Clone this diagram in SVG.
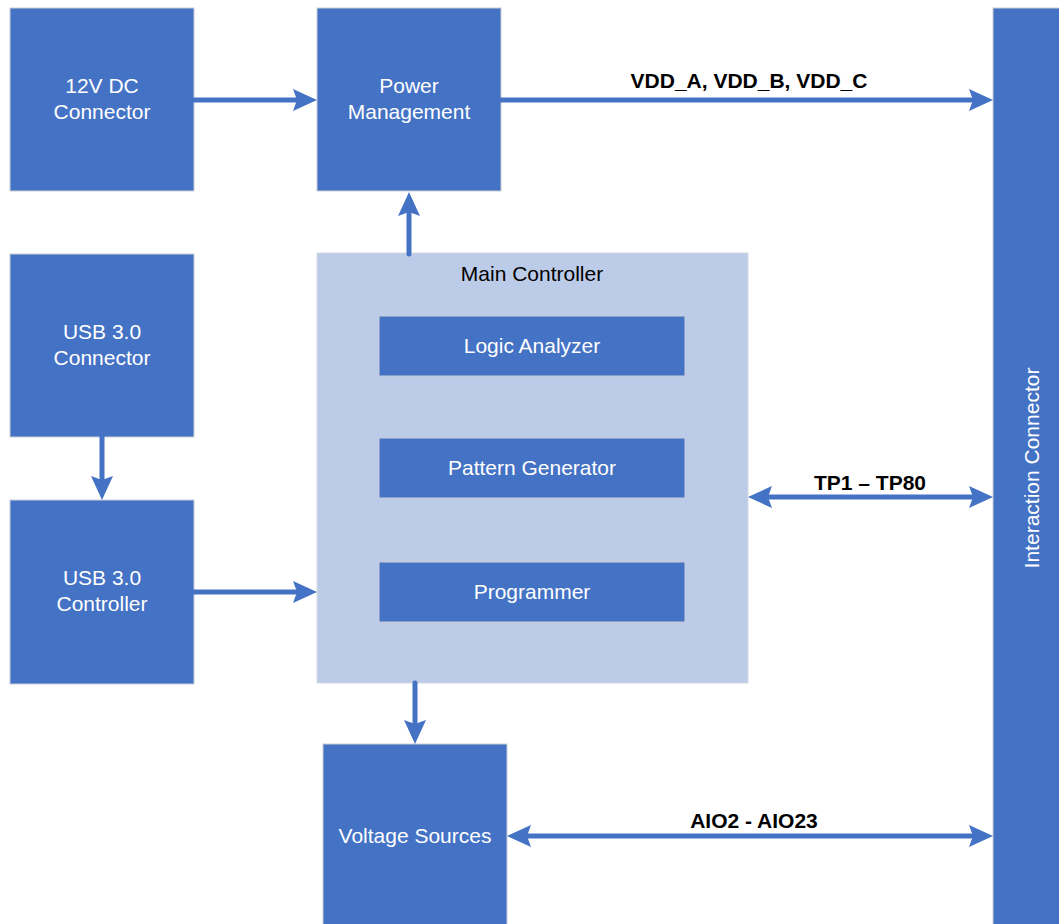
<svg xmlns="http://www.w3.org/2000/svg" width="1059" height="924" viewBox="0 0 1059 924">
<style>
.blk{fill:#4472C4;stroke:#C9CED6;stroke-width:1}
.grp{fill:#BCCCE8;stroke:#D5DAE2;stroke-width:1}
.wt{font-family:"Liberation Sans",Arial,sans-serif;font-size:21px;fill:#FFFFFF;text-anchor:middle}
.bt{font-family:"Liberation Sans",Arial,sans-serif;font-size:21px;fill:#000000;text-anchor:middle}
.lb{font-family:"Liberation Sans",Arial,sans-serif;font-size:21px;font-weight:bold;fill:#000000;text-anchor:middle}
.cn{fill:none;stroke:#4472C4;stroke-width:5;stroke-linecap:round}
</style>
<defs>
<marker id="ah" viewBox="0 0 24 24" refX="12" refY="12" markerWidth="24" markerHeight="24" markerUnits="userSpaceOnUse" orient="auto-start-reverse">
<path d="M0,1 L24,12 L0,23 L4,12 z" fill="#4472C4"/>
</marker>
</defs>
<rect width="1059" height="924" fill="#FFFFFF"/>
<g id="main-controller">
<rect class="grp" x="317" y="253" width="431" height="430"/>
<text class="bt" x="532" y="281">Main Controller</text>
</g>
<g id="dc-connector">
<rect class="blk" x="10" y="8" width="184" height="183"/>
<text class="wt" x="102" y="93">12V DC</text>
<text class="wt" x="102" y="119">Connector</text>
</g>
<g id="power-management">
<rect class="blk" x="317" y="8" width="184" height="183"/>
<text class="wt" x="409" y="93">Power</text>
<text class="wt" x="409" y="119">Management</text>
</g>
<g id="usb-connector">
<rect class="blk" x="10" y="254" width="184" height="183"/>
<text class="wt" x="102" y="339">USB 3.0</text>
<text class="wt" x="102" y="365">Connector</text>
</g>
<g id="usb-controller">
<rect class="blk" x="10" y="500" width="184" height="184"/>
<text class="wt" x="102" y="585">USB 3.0</text>
<text class="wt" x="102" y="611">Controller</text>
</g>
<g id="logic-analyzer">
<rect class="blk" x="379" y="316" width="306" height="60"/>
<text class="wt" x="532" y="353">Logic Analyzer</text>
</g>
<g id="pattern-generator">
<rect class="blk" x="379" y="438" width="306" height="60"/>
<text class="wt" x="532" y="475">Pattern Generator</text>
</g>
<g id="programmer">
<rect class="blk" x="379" y="562" width="306" height="60"/>
<text class="wt" x="532" y="599">Programmer</text>
</g>
<g id="voltage-sources">
<rect class="blk" x="323" y="744" width="184" height="190"/>
<text class="wt" x="415" y="843">Voltage Sources</text>
</g>
<g id="interaction-connector">
<rect class="blk" x="993" y="8" width="70" height="926"/>
<text class="wt" transform="translate(1039,468) rotate(-90)" x="0" y="0">Interaction Connector</text>
</g>
<g id="connectors">
<line class="cn" x1="194" y1="100" x2="305" y2="100" marker-end="url(#ah)"/>
<line class="cn" x1="501" y1="100" x2="981" y2="100" marker-end="url(#ah)"/>
<line class="cn" x1="409" y1="254" x2="409" y2="204" marker-end="url(#ah)"/>
<line class="cn" x1="102" y1="437" x2="102" y2="488" marker-end="url(#ah)"/>
<line class="cn" x1="194" y1="592" x2="305" y2="592" marker-end="url(#ah)"/>
<line class="cn" x1="415" y1="683" x2="415" y2="732" marker-end="url(#ah)"/>
<line class="cn" x1="760" y1="497" x2="981" y2="497" marker-start="url(#ah)" marker-end="url(#ah)"/>
<line class="cn" x1="519" y1="836" x2="981" y2="836" marker-start="url(#ah)" marker-end="url(#ah)"/>
<text class="lb" x="749" y="88">VDD_A, VDD_B, VDD_C</text>
<text class="lb" x="870" y="490">TP1 – TP80</text>
<text class="lb" x="754" y="828">AIO2 - AIO23</text>
</g>
</svg>
